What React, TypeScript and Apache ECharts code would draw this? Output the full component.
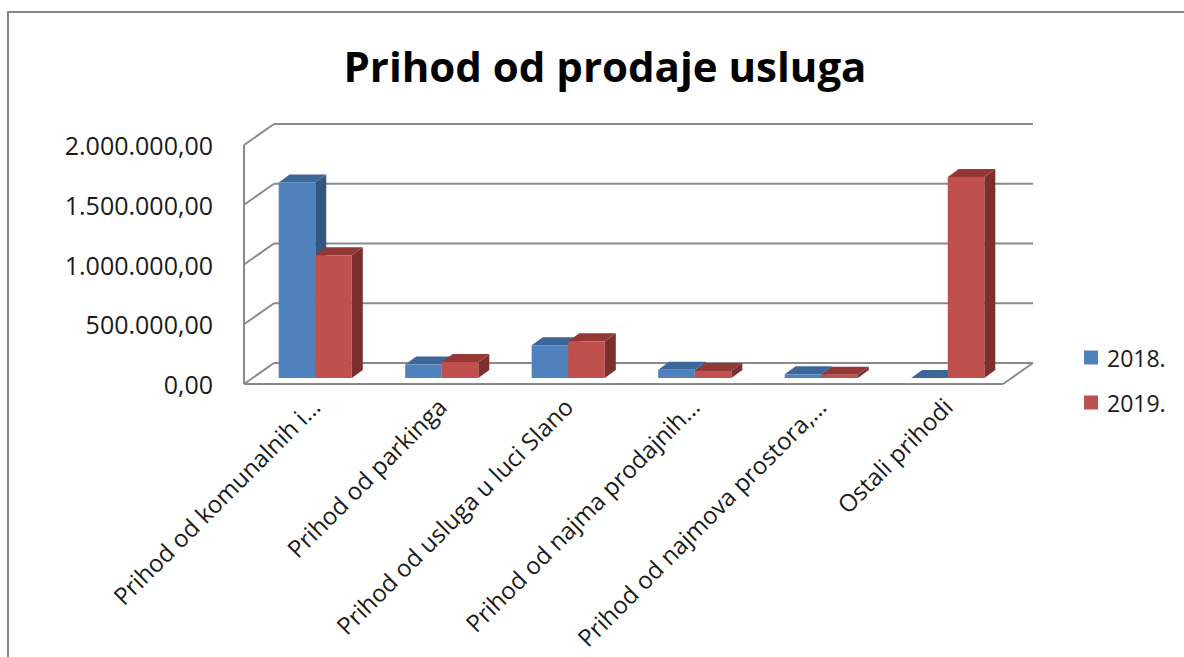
import React, { useEffect, useRef } from 'react';
import * as echarts from 'echarts';

const categories = [
  'Prihod od komunalnih i…',
  'Prihod od parkinga',
  'Prihod od usluga u luci Slano',
  'Prihod od najma prodajnih…',
  'Prihod od najmova prostora,…',
  'Ostali prihodi',
];
const seriesNames = ['2018.', '2019.'];
const values2018 = [1636000, 112000, 274000, 70000, 31000, 0];
const values2019 = [1028000, 134000, 307000, 59000, 28000, 1683000];
const yTicks = [0, 500000, 1000000, 1500000, 2000000];
const chartTitle = 'Prihod od prodaje usluga';

const FONT = 'Open Sans';
const DEPTH = [11, -8];
const FRONT = [-8, 6];
const BACK = [22, -15];
const FRONT_COLORS = ['#4F81BD', '#C0504D'];
const TOP_COLORS = ['#3D6798', '#943836'];
const SIDE_COLORS = ['#33577F', '#7D2F2D'];
const WALL = '#8a8a8a';

const fmt = (v: number) =>
  Math.round(v).toString().replace(/\B(?=(\d{3})+(?!\d))/g, '.') + ',00';

function wallRender(params: any, api: any) {
  const v = api.value(1);
  const cs = params.coordSys;
  const L = cs.x;
  const R = cs.x + cs.width;
  const y = api.coord([0, v])[1];
  const st = { stroke: WALL, lineWidth: 2, fill: null };
  const children: any[] = [
    { type: 'line', shape: { x1: L + BACK[0], y1: y + BACK[1], x2: R + BACK[0], y2: y + BACK[1] }, style: st },
    { type: 'line', shape: { x1: L + FRONT[0], y1: y + FRONT[1], x2: L + BACK[0], y2: y + BACK[1] }, style: st },
  ];
  if (v === 0) {
    children.push(
      { type: 'line', shape: { x1: L + FRONT[0], y1: y + FRONT[1], x2: R + FRONT[0], y2: y + FRONT[1] }, style: st },
      { type: 'line', shape: { x1: R + FRONT[0], y1: y + FRONT[1], x2: R + BACK[0], y2: y + BACK[1] }, style: st },
      { type: 'line', shape: { x1: L + FRONT[0], y1: y + FRONT[1], x2: L + FRONT[0], y2: cs.y + FRONT[1] }, style: st },
    );
  }
  return { type: 'group', children };
}

function makeBarRender(s: number) {
  return (params: any, api: any) => {
    const i = api.value(0);
    const v = api.value(1);
    const base = api.coord([i, 0]);
    const top = api.coord([i, v]);
    const band = api.size([1, 0])[0];
    const bw = band * 0.289;
    const x0 = s === 0 ? base[0] - bw : base[0];
    const x1 = x0 + bw;
    const yb = base[1];
    const yt = top[1];
    const [dx, dy] = DEPTH;
    const children: any[] = [];
    children.push({
      type: 'polygon',
      shape: { points: [[x1, yt], [x1 + dx, yt + dy], [x1 + dx, yb + dy], [x1, yb]] },
      style: { fill: SIDE_COLORS[s] },
    });
    children.push({
      type: 'polygon',
      shape: { points: [[x0, yt], [x1, yt], [x1 + dx, yt + dy], [x0 + dx, yt + dy]] },
      style: { fill: TOP_COLORS[s] },
    });
    if (yb - yt > 0.5) {
      children.push({
        type: 'rect',
        shape: { x: x0, y: yt, width: bw, height: yb - yt },
        style: { fill: FRONT_COLORS[s] },
      });
    }
    return { type: 'group', children };
  };
}

export default function App() {
  const ref = useRef<HTMLDivElement>(null);
  useEffect(() => {
    const chart = echarts.init(ref.current!, null, { renderer: 'svg' });
    const allValues = [values2018, values2019];
    const option: any = {
      animation: false,
      backgroundColor: '#ffffff',
      title: {
        text: chartTitle,
        left: 600,
        top: 39,
        textAlign: 'center',
        textStyle: { fontFamily: FONT, fontWeight: 'bold', fontSize: 42, color: '#000' },
      },
      legend: {
        orient: 'vertical',
        left: 1079,
        top: 341,
        itemWidth: 14,
        itemHeight: 14,
        itemGap: 22,
        icon: 'rect',
        data: seriesNames,
        textStyle: { fontFamily: FONT, fontSize: 23, color: '#1a1a1a', padding: [0, 0, 0, 4] },
      },
      graphic: [
        {
          type: 'rect',
          z: -10,
          shape: { x: 8, y: 12, width: 1300, height: 800 },
          style: { fill: 'none', stroke: '#868686', lineWidth: 2 },
        },
      ],
      grid: [
        { left: 252, right: 173, top: 139, bottom: 279 },
        { left: 244, right: 181, top: 145, bottom: 273 },
      ],
      xAxis: [
        {
          type: 'category',
          gridIndex: 0,
          data: categories,
          axisLine: { show: false },
          axisTick: { show: false },
          axisLabel: {
            interval: 0,
            rotate: 45,
            margin: 24,
            fontFamily: FONT,
            fontSize: 24,
            color: '#1a1a1a',
          },
        },
        { type: 'category', gridIndex: 1, data: categories, show: false },
      ],
      yAxis: [
        { type: 'value', gridIndex: 0, min: 0, max: 2000000, interval: 500000, show: false },
        {
          type: 'value',
          gridIndex: 1,
          min: 0,
          max: 2000000,
          interval: 500000,
          axisLine: { show: false },
          axisTick: { show: false },
          splitLine: { show: false },
          axisLabel: {
            margin: 31,
            fontFamily: FONT,
            fontSize: 25,
            color: '#1a1a1a',
            formatter: (v: number) => fmt(v),
          },
        },
      ],
      series: [
        {
          type: 'custom',
          name: 'walls',
          xAxisIndex: 0,
          yAxisIndex: 0,
          silent: true,
          z: 1,
          renderItem: wallRender,
          encode: { x: 0, y: 1 },
          data: yTicks.map((t) => [0, t]),
        },
        ...seriesNames.map((name, s) => ({
          type: 'custom',
          name,
          xAxisIndex: 0,
          yAxisIndex: 0,
          z: 2 + s,
          itemStyle: { color: FRONT_COLORS[s] },
          renderItem: makeBarRender(s),
          encode: { x: 0, y: 1 },
          data: allValues[s].map((v, i) => [i, v]),
        })),
      ],
    };
    chart.setOption(option);
    return () => chart.dispose();
  }, []);
  return (
    <div
      ref={ref}
      style={{ position: 'fixed', left: 0, top: 0, width: 1184, height: 657, background: '#fff' }}
    />
  );
}
